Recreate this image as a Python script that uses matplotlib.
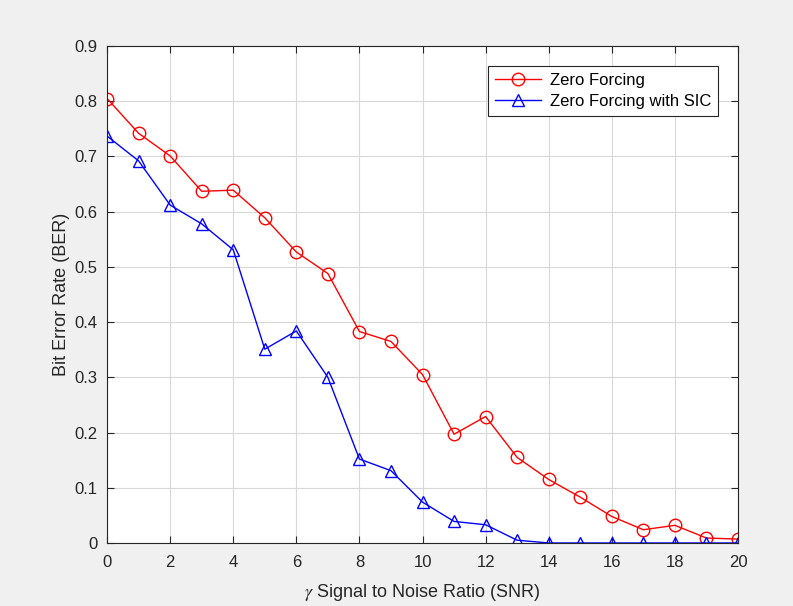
import numpy as np
import matplotlib.pyplot as plt

snr = np.arange(0, 21)
ber_zf = [0.805, 0.742, 0.701, 0.637, 0.639, 0.589, 0.527, 0.488, 0.383, 0.365, 0.305,
          0.197, 0.229, 0.155, 0.115, 0.083, 0.048, 0.024, 0.032, 0.009, 0.007]
ber_sic = [0.737, 0.692, 0.612, 0.578, 0.531, 0.351, 0.384, 0.300, 0.152, 0.131, 0.074,
           0.039, 0.033, 0.005, 0, 0, 0, 0, 0, 0, 0]

plt.rcParams['font.family'] = ['Liberation Sans', 'DejaVu Sans']
plt.rcParams['mathtext.fontset'] = 'stix'

fig = plt.figure(figsize=(7.93, 6.06), dpi=100, facecolor='#f0f0f0')
ax = fig.add_axes([0.135, 0.104, 0.7956, 0.82])

ax.plot(snr, ber_zf, color='#ff0000', lw=1, marker='o', ms=9, mfc='none', label='Zero Forcing')
ax.plot(snr, ber_sic, color='#0000ff', lw=1, marker='^', ms=9, mfc='none', label='Zero Forcing with SIC')

ax.set_xlim(0, 20)
ax.set_ylim(0, 0.9)
ax.set_xticks(np.arange(0, 21, 2))
ax.set_yticks(np.arange(0, 0.91, 0.1))
ax.set_yticklabels(['0'] + [f'{v:.1f}' for v in np.arange(0.1, 0.91, 0.1)])
ax.grid(True, color='#d8d8d8', lw=0.8)
ax.set_axisbelow(True)
ax.tick_params(direction='in', top=True, right=True, labelsize=12, colors='#262626', length=5)
ax.tick_params(axis='x', pad=9)
ax.tick_params(axis='y', pad=7)
for s in ax.spines.values():
    s.set_color('#262626')
    s.set_linewidth(0.8)

ax.set_xlabel(r'$\gamma$ Signal to Noise Ratio (SNR)', fontsize=13, color='#262626', labelpad=8)
ax.set_ylabel('Bit Error Rate (BER)', fontsize=13, color='#262626', labelpad=3)

leg = ax.legend(loc='upper right', bbox_to_anchor=(0.968, 0.96), fontsize=12, fancybox=False,
                edgecolor='#262626', framealpha=1, borderaxespad=0, handlelength=2.8,
                labelspacing=0.4, borderpad=0.4, handletextpad=0.5)
leg.get_frame().set_linewidth(0.8)

fig.savefig('out.png', dpi=100, facecolor=fig.get_facecolor())
